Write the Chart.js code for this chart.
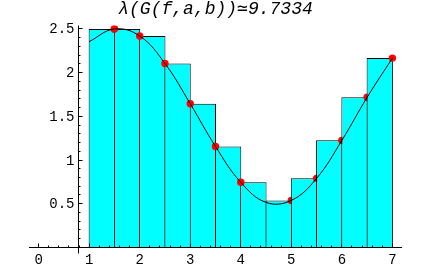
<!DOCTYPE html>
<html><head><meta charset="utf-8">
<script src="https://cdn.jsdelivr.net/npm/chart.js@4/dist/chart.umd.min.js"></script>
<style>html,body{margin:0;padding:0;background:#fff}#wrap{width:432px;height:266px}</style>
</head><body><div id="wrap"><canvas id="c" width="432" height="266"></canvas></div>
<script>
// ---- data ----
const titleText = "λ(G(f,a,b))≃9.7334";
const partition = [1, 1.5, 2, 2.5, 3, 3.5, 4, 4.5, 5, 5.5, 6, 6.5, 7];
const barHeights = [2.5, 2.5, 2.42, 2.105, 1.645, 1.155, 0.745, 0.538, 0.79, 1.225, 1.718, 2.167];
const tags = [1.5, 1.5, 2, 2.5, 3, 3.5, 4, 5, 5.5, 6, 6.5, 7];
const curveX = [1, 1.5, 2, 2.5, 3, 3.5, 4, 4.5, 5, 5.5, 6, 6.5, 7];
const curveY = [2.355, 2.5, 2.42, 2.105, 1.645, 1.155, 0.745, 0.515, 0.538, 0.79, 1.225, 1.718, 2.167];
const xTickValues = [0, 1, 2, 3, 4, 5, 6, 7];
const xTickLabels = ["0", "1", "2", "3", "4", "5", "6", "7"];
const yTickValues = [0.5, 1, 1.5, 2, 2.5];
const yTickLabels = ["0.5", "1", "1.5", "2", "2.5"];
const yAxisAt = 0.78;

// ---- styles ----
const CYAN = '#00FFFF', RED = '#FF0000', BLACK = '#000000';
const labelFont = "14px 'Liberation Mono', 'Courier New', monospace";

// build datasets: each bar followed by its tag point (drawing order as in reference), curve on top
const datasets = [];
const nDraw = barHeights.length * 2 + 1;
let k = 0;
for (let i = 0; i < barHeights.length; i++) {
  datasets.push({
    type: 'bar',
    data: [{ x: (partition[i] + partition[i + 1]) / 2, y: barHeights[i] }],
    backgroundColor: CYAN,
    borderColor: BLACK,
    borderWidth: 1,
    borderSkipped: 'start',
    grouped: false,
    barPercentage: 1.04,
    categoryPercentage: 1,
    order: nDraw - (k++)
  });
  datasets.push({
    type: 'line',
    data: [{ x: tags[i], y: barHeights[i] }],
    showLine: false,
    pointRadius: 3.7,
    pointBackgroundColor: RED,
    pointBorderColor: RED,
    pointBorderWidth: 0,
    order: nDraw - (k++)
  });
}
datasets.push({
  type: 'line',
  data: curveX.map((x, i) => ({ x, y: curveY[i] })),
  borderColor: BLACK,
  borderWidth: 1,
  pointRadius: 0,
  fill: false,
  tension: 0.4,
  order: 0
});

const axesPlugin = {
  id: 'mmaAxes',
  afterDatasetsDraw(chart) {
    const { ctx, scales: { x, y } } = chart;
    const ax = Math.floor(x.getPixelForValue(yAxisAt)) + 0.5;
    const ay = Math.floor(y.getPixelForValue(0)) + 0.5;
    ctx.save();
    ctx.strokeStyle = BLACK;
    ctx.lineWidth = 1;
    ctx.beginPath();
    // x axis
    ctx.moveTo(x.left, ay); ctx.lineTo(x.right, ay);
    // y axis
    ctx.moveTo(ax, y.top); ctx.lineTo(ax, y.bottom);
    // x ticks (major + minor every 0.2)
    for (let t = 0; t <= 35; t++) {
      const v = t * 0.2;
      const px = Math.floor(x.getPixelForValue(v)) + 0.5;
      const len = (t % 5 === 0) ? 4 : 2;
      ctx.moveTo(px, ay); ctx.lineTo(px, ay - len);
    }
    // y ticks (major + minor every 0.1)
    for (let t = 1; t <= 25; t++) {
      const v = t * 0.1;
      const py = Math.floor(y.getPixelForValue(v)) + 0.5;
      const len = (t % 5 === 0) ? 4 : 2;
      ctx.moveTo(ax, py); ctx.lineTo(ax + len, py);
    }
    ctx.stroke();
    // labels
    ctx.fillStyle = BLACK;
    ctx.font = labelFont;
    ctx.textAlign = 'center';
    ctx.textBaseline = 'alphabetic';
    xTickValues.forEach((v, i) => {
      ctx.fillText(xTickLabels[i], x.getPixelForValue(v), ay + 16);
    });
    ctx.textAlign = 'right';
    yTickValues.forEach((v, i) => {
      ctx.fillText(yTickLabels[i], ax - 4, y.getPixelForValue(v) + 4.5);
    });
    ctx.restore();
  }
};

new Chart(document.getElementById('c'), {
  type: 'bar',
  data: { datasets },
  options: {
    responsive: false,
    animation: false,
    devicePixelRatio: 1,
    layout: { padding: { left: 29, right: 30, top: 0, bottom: 12.5 } },
    scales: {
      x: {
        type: 'linear', min: -0.19, max: 7.19, offset: false, display: false,
        ticks: { stepSize: 1, includeBounds: false }, grid: { display: false }
      },
      y: {
        type: 'linear', min: -0.07, max: 2.54, display: false,
        ticks: { stepSize: 0.5, includeBounds: false }, grid: { display: false }
      }
    },
    plugins: {
      legend: { display: false },
      tooltip: { enabled: false },
      title: {
        display: true,
        text: titleText,
        color: BLACK,
        font: { family: "'Liberation Mono', 'DejaVu Sans Mono', monospace", style: 'italic', weight: 'normal', size: 18, lineHeight: 1 },
        padding: { top: 0, bottom: 7.5 }
      }
    }
  },
  plugins: [axesPlugin]
});
</script>
</body></html>
